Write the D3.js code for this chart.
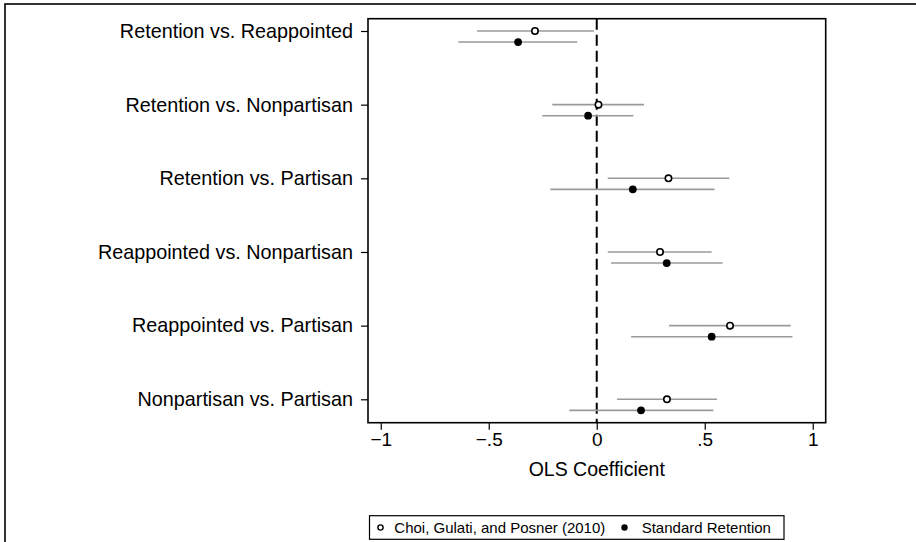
<!DOCTYPE html>
<html><head><meta charset="utf-8">
<script src="https://cdn.jsdelivr.net/npm/d3@7"></script>
<style>body{margin:0;background:#fff}svg{display:block;font-family:"Liberation Sans",Arial,sans-serif}</style>
</head><body><svg id="c" width="916" height="542"></svg>
<script>
const categories = ["Retention vs. Reappointed","Retention vs. Nonpartisan","Retention vs. Partisan","Reappointed vs. Nonpartisan","Reappointed vs. Partisan","Nonpartisan vs. Partisan"];
const choiEst = [-0.286, 0.008, 0.332, 0.293, 0.617, 0.325];
const choiLo  = [-0.554, -0.206, 0.051, 0.051, 0.335, 0.094];
const choiHi  = [-0.013, 0.219, 0.614, 0.532, 0.898, 0.557];
const stdEst  = [-0.364, -0.040, 0.167, 0.324, 0.532, 0.205];
const stdLo   = [-0.641, -0.252, -0.215, 0.066, 0.159, -0.127];
const stdHi   = [-0.090, 0.170, 0.545, 0.583, 0.906, 0.540];
const xTicks = [-1, -0.5, 0, 0.5, 1];
const xTickLabels = ["\u22121", "\u2212.5", "0", ".5", "1"];
const seriesNames = ["Choi, Gulati, and Posner (2010)", "Standard Retention"];

const svg = d3.select("#c");
// outer frame
svg.append("rect").attr("x",5).attr("y",4).attr("width",940).attr("height",600)
  .attr("fill","none").attr("stroke","#000").attr("stroke-width",1.6);

const L=368, R=825.7, T=18.7, B=422.7;
const x = d3.scaleLinear().domain([-1.059, 1.06]).range([L, R]);
const y = d3.scaleLinear().domain([0, 5]).range([31, 399.3]);
const off = 0.15;

// plot box
svg.append("rect").attr("x",L).attr("y",T).attr("width",R-L).attr("height",B-T)
  .attr("fill","none").attr("stroke","#000").attr("stroke-width",1.6);

// zero line
svg.append("line").attr("x1",x(0)).attr("x2",x(0)).attr("y1",T).attr("y2",B)
  .attr("stroke","#000").attr("stroke-width",2).attr("stroke-dasharray","11,5");

// x axis
const xa = svg.append("g").attr("transform",`translate(0,${B})`)
  .call(d3.axisBottom(x).tickValues(xTicks).tickSize(7).tickPadding(3)
    .tickFormat((d,i)=>xTickLabels[i]));
xa.select(".domain").remove();
xa.selectAll("line").attr("stroke","#000").attr("stroke-width",1.2);
xa.selectAll("text").attr("font-size",19).attr("fill","#000").attr("font-family","Liberation Sans, Arial, sans-serif");

// y axis
const ya = svg.append("g").attr("transform",`translate(${L},0)`)
  .call(d3.axisLeft(y).tickValues(d3.range(categories.length)).tickSize(7).tickPadding(8)
    .tickFormat(i=>categories[i]));
ya.select(".domain").remove();
ya.selectAll("line").attr("stroke","#000").attr("stroke-width",1.2);
ya.selectAll("text").attr("font-size",19.8).attr("fill","#000").attr("font-family","Liberation Sans, Arial, sans-serif");

// axis title
svg.append("text").attr("x",x(0)).attr("y",476).attr("text-anchor","middle")
  .attr("font-size",19.5).text("OLS Coefficient");

const idx = d3.range(categories.length);
// CI lines
const ci = svg.append("g").attr("stroke","#9a9a9a").attr("stroke-width",1.6);
ci.selectAll(".c1").data(idx).join("line")
  .attr("x1",i=>x(choiLo[i])).attr("x2",i=>x(choiHi[i])).attr("y1",i=>y(i)).attr("y2",i=>y(i));
ci.selectAll(".c2").data(idx).join("line")
  .attr("x1",i=>x(stdLo[i])).attr("x2",i=>x(stdHi[i])).attr("y1",i=>y(i+off)).attr("y2",i=>y(i+off));
// points
svg.append("g").selectAll("circle").data(idx).join("circle")
  .attr("cx",i=>x(choiEst[i])).attr("cy",i=>y(i)).attr("r",3.2)
  .attr("fill","#fff").attr("stroke","#000").attr("stroke-width",1.6);
svg.append("g").selectAll("circle").data(idx).join("circle")
  .attr("cx",i=>x(stdEst[i])).attr("cy",i=>y(i+off)).attr("r",3.9).attr("fill","#000");

// legend
const lg = svg.append("g");
lg.append("rect").attr("x",369.5).attr("y",515.7).attr("width",414.5).attr("height",23.6)
  .attr("fill","#fff").attr("stroke","#000").attr("stroke-width",1.2);
lg.append("circle").attr("cx",380.5).attr("cy",527.5).attr("r",2.6).attr("fill","#fff").attr("stroke","#000").attr("stroke-width",1.4);
lg.append("text").attr("x",394.3).attr("y",532.8).attr("font-size",15).text(seriesNames[0]);
lg.append("circle").attr("cx",624.5).attr("cy",527.5).attr("r",3.2).attr("fill","#000");
lg.append("text").attr("x",641.7).attr("y",532.8).attr("font-size",15).text(seriesNames[1]);
</script></body></html>
